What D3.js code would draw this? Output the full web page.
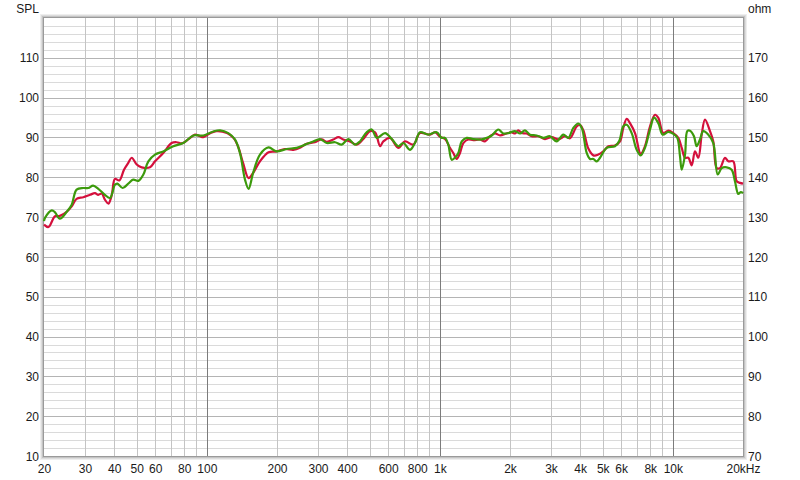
<!DOCTYPE html>
<html><head><meta charset="utf-8">
<script src="https://cdn.jsdelivr.net/npm/d3@7"></script>
<style>
html,body{margin:0;padding:0;background:#fff;}
svg{display:block;font-family:"Liberation Sans",Arial,sans-serif;}
</style></head>
<body><svg id="c" width="800" height="480"></svg>
<script>
// ---- data ----
const xTickValues = [20,30,40,50,60,80,100,200,300,400,600,800,1000,2000,3000,4000,5000,6000,8000,10000,20000];
const xTickLabels = ["20","30","40","50","60","80","100","200","300","400","600","800","1k","2k","3k","4k","5k","6k","8k","10k","20kHz"];
const splTicks = [10,20,30,40,50,60,70,80,90,100,110];
const ohmTicks = [70,80,90,100,110,120,130,140,150,160,170];

const redFreq = [20,20.9,22.3,23.4,25.1,26.3,27.6,29.5,31.5,33.1,34.2,35.4,36.5,37.8,39.1,40.3,42.1,44.1,46,47.6,50,52.5,57,59.9,65,70.6,74.2,78,83.2,88.9,93.4,96.6,103,110,122,130,136,143,151,158,169,184,199,216,235,251,268,291,311,327,349,367,385,411,440,469,501,527,554,572,611,663,709,769,822,907,953,1000,1052,1105,1142,1181,1220,1261,1324,1391,1486,1562,1641,1724,1812,1936,2034,2102,2170,2246,2358,2478,2646,2826,3020,3224,3444,3618,3868,3994,4128,4338,4558,4786,5028,5284,5644,5932,6128,6338,6546,6880,7278,7592,7980,8384,8662,9100,9562,10046,10554,10916,11278,11652,12050,12446,12860,13298,13738,14434,14912,15422,15934,16740,17296,18172,18792,19420,20000];
const redSpl = [68.1,67.5,70.2,70.3,71.4,72.7,74.6,75.0,75.6,76.0,75.6,75.9,74.4,73.4,75.6,79.6,79.2,81.9,83.6,84.9,83.2,82.5,82.5,84.0,86.1,88.6,88.8,88.5,89.5,90.7,90.3,90.1,91.0,91.6,91.1,89.9,87.8,83.6,79.8,81.1,84.0,86.3,86.5,87.1,86.9,87.4,88.4,88.8,89.5,88.9,89.5,90.1,89.5,89.0,88.2,89.6,91.6,91.3,87.8,89.0,89.9,87.4,89.0,88.2,91.1,90.7,91.3,90.2,89.6,87.4,86.1,84.6,86.1,88.6,89.5,89.3,89.5,89.0,90.3,91.0,90.5,91.0,91.3,91.0,91.8,91.1,91.0,90.3,90.3,89.6,90.1,89.5,90.3,89.8,92.8,93.1,91.8,87.2,85.5,85.7,86.5,87.8,88.0,89.0,92.4,94.7,93.6,91.1,85.9,87.8,92.8,95.7,94.9,91.1,91.7,91.1,89.9,87.4,84.9,84.9,83.0,86.5,84.9,90.7,94.5,91.6,89.0,82.3,82.3,84.9,84.0,84.0,79.0,78.6,78.4];

const greenFreq = [20,20.2,21.6,22.3,23.4,25.1,26.3,27.6,29.5,31,32.5,34.2,36.5,38.4,40.3,41.3,43.5,46,48.3,50.8,53.4,56.1,59.9,65,71.8,79.2,87.5,96.6,106.6,114,123.6,132,138.7,145.8,151,158,169,184,199,220,243,264,286,306,327,355,379,405,432,454,485,510,536,582,622,663,697,745,782,822,892,969,1018,1052,1087,1124,1161,1200,1241,1304,1391,1511,1589,1669,1782,1872,1967,2102,2209,2319,2437,2603,2780,2970,3171,3387,3559,3739,3929,4065,4268,4409,4558,4710,4868,5200,5644,5892,6128,6338,6657,6996,7278,7592,7980,8301,8662,9047,9562,10046,10450,10730,10916,11278,11540,11850,12320,12650,13070,13510,14200,14912,15580,16200,17020,17880,18470,19090,19550,20000];
const greenSpl = [69.0,69.8,71.7,71.2,69.6,71.4,73.1,76.9,77.3,77.3,77.9,77.1,75.6,74.8,78.1,78.4,77.3,78.4,79.4,79.1,80.7,84.0,85.7,86.5,87.8,88.6,90.5,90.5,91.5,91.8,91.1,89.5,86.1,79.4,77.1,81.1,85.7,87.5,86.5,87.1,87.4,88.2,89.0,89.6,88.6,88.8,88.2,89.6,88.2,89.0,91.3,92.0,89.9,91.1,89.6,87.8,88.6,86.9,88.6,91.3,90.7,91.3,89.9,89.9,88.2,84.4,84.9,86.1,89.0,89.9,89.6,89.5,89.9,90.5,92.0,91.0,91.1,91.6,91.0,91.8,90.7,90.5,89.9,90.3,89.0,90.7,89.9,92.4,93.5,92.4,86.1,84.6,84.6,84.0,84.9,87.4,87.8,89.2,92.8,93.2,91.1,86.9,85.5,87.4,92.0,95.0,93.6,90.7,91.4,90.9,89.9,85.3,81.9,85.7,91.6,91.7,90.3,87.8,89.5,91.6,90.7,88.6,80.7,82.3,82.5,81.9,79.0,75.8,76.3,76.0];

// ---- layout ----
const L = 44, R = 743, T = 18, B = 456;
const svg = d3.select("#c");
const x = d3.scaleLog().domain([20, 20000]).range([L, R]);
const y = d3.scaleLinear().domain([10, 120]).range([B, T]);
const yo = d3.scaleLinear().domain([70, 180]).range([B, T]);

// bevel frame (shadow)
const bevel = ["#a8a8a8", "#c4c4c4", "#dcdcdc", "#eeeeee"];
bevel.forEach((c, i) => {
  svg.append("rect").attr("x", L - 0.5 - i).attr("y", T - 0.5 - i)
    .attr("width", R - L + 1 + 2 * i).attr("height", B - T + 1 + 2 * i)
    .attr("fill", "none").attr("stroke", c).attr("stroke-width", 1);
});
svg.append("rect").attr("x", L).attr("y", T).attr("width", R - L).attr("height", B - T).attr("fill", "#fff");

const grid = svg.append("g");
// horizontal grid every 2 dB
for (let v = 12; v < 120; v += 2) {
  grid.append("line").attr("x1", L).attr("x2", R)
    .attr("y1", Math.round(y(v)) + 0.5).attr("y2", Math.round(y(v)) + 0.5)
    .attr("stroke", v % 10 === 0 ? "#b4b4b4" : "#dadada");
}
// vertical grid
const vlines = [];
[10, 100, 1000].forEach(dec => { for (let k = 2; k <= 9; k++) vlines.push(dec * k); });
vlines.push(10000, 20000);
const minorV = vlines.filter(f => f > 20 && f < 20000 && ![100, 1000, 10000].includes(f) && f >= 30);
minorV.forEach(f => {
  grid.append("line").attr("y1", T).attr("y2", B)
    .attr("x1", Math.round(x(f)) + 0.5).attr("x2", Math.round(x(f)) + 0.5)
    .attr("stroke", "#c4c4c4");
});
[100, 1000, 10000].forEach(f => {
  grid.append("line").attr("y1", T).attr("y2", B)
    .attr("x1", Math.round(x(f)) + 0.5).attr("x2", Math.round(x(f)) + 0.5)
    .attr("stroke", "#7c7c7c");
});
// frame line
svg.append("rect").attr("x", L - 0.5).attr("y", T - 0.5)
  .attr("width", R - L + 1).attr("height", B - T + 1)
  .attr("fill", "none").attr("stroke", "#9a9a9a");

// axes
const fmtX = d => xTickLabels[xTickValues.indexOf(d)];
const gx = svg.append("g").attr("transform", `translate(0,${B + 7})`)
  .call(d3.axisBottom(x).tickValues(xTickValues).tickFormat(fmtX).tickSize(0).tickPadding(0));
const gl = svg.append("g").attr("transform", `translate(${L - 5},0)`)
  .call(d3.axisLeft(y).tickValues(splTicks).tickFormat(d3.format("d")).tickSize(0).tickPadding(0));
const gr = svg.append("g").attr("transform", `translate(${R + 5},0)`)
  .call(d3.axisRight(yo).tickValues(ohmTicks).tickFormat(d3.format("d")).tickSize(0).tickPadding(0));
[gx, gl, gr].forEach(g => {
  g.select(".domain").remove();
  g.selectAll("text").attr("font-size", 12).attr("fill", "#1a1a1a")
    .attr("font-family", "'Liberation Sans', Arial, sans-serif");
});
gx.selectAll("text").attr("dy", "0.85em");
gl.selectAll("text").attr("dy", "0.34em");
gr.selectAll("text").attr("dy", "0.34em");

svg.append("text").attr("x", 39).attr("y", 12.5).attr("text-anchor", "end")
  .attr("font-size", 12).attr("fill", "#1a1a1a").text("SPL");
svg.append("text").attr("x", 748).attr("y", 12.5).attr("text-anchor", "start")
  .attr("font-size", 12).attr("fill", "#1a1a1a").text("ohm");

// curves
const line = d3.line().x(d => x(d[0])).y(d => y(d[1])).curve(d3.curveCatmullRom.alpha(0.5));
const plot = svg.append("g");
plot.append("path").datum(d3.zip(redFreq, redSpl)).attr("d", line)
  .attr("fill", "none").attr("stroke", "#d4103c").attr("stroke-width", 2.2).attr("stroke-linejoin", "round");
plot.append("path").datum(d3.zip(greenFreq, greenSpl)).attr("d", line)
  .attr("fill", "none").attr("stroke", "#3c9a0c").attr("stroke-width", 2.2).attr("stroke-linejoin", "round");
</script></body></html>
